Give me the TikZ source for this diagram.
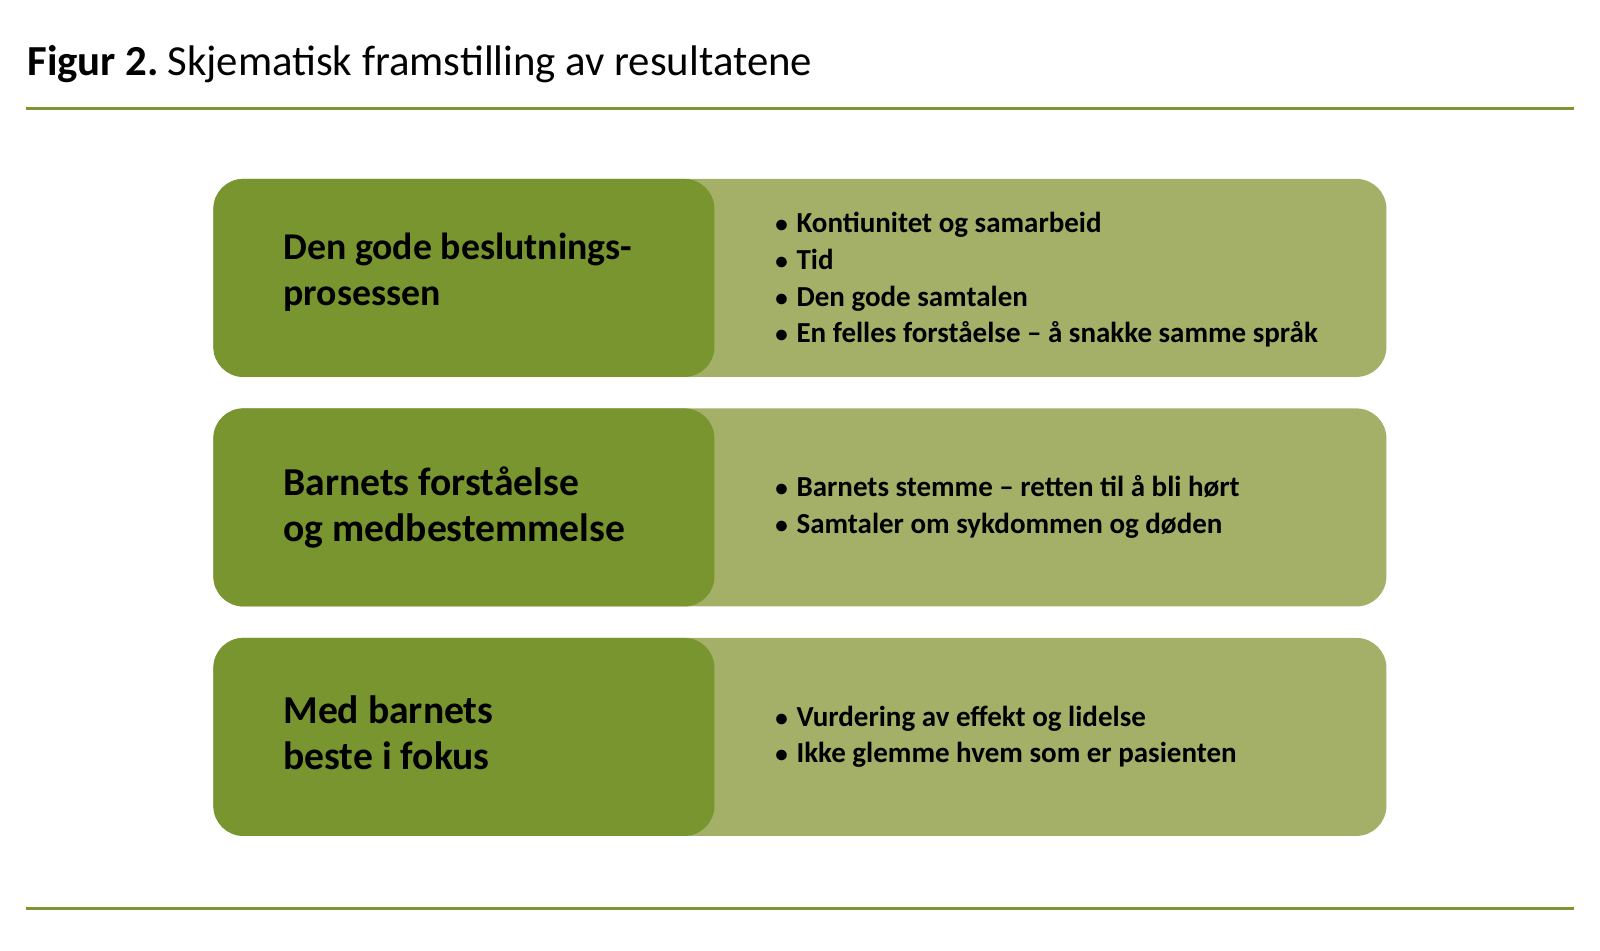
\documentclass[tikz,border=0pt]{standalone}
\usepackage{fontspec}
\setmainfont{Carlito}
\definecolor{dkgreen}{HTML}{78952F}
\definecolor{ltgreen}{HTML}{A4B067}
\definecolor{rulegreen}{HTML}{7A9733}
\newcommand{\blt}{{\fontsize{12.5}{14}\selectfont •}\hspace{0.3em}}
\begin{document}
\begin{tikzpicture}[x=0.5pt,y=-0.5pt,
  lightbox/.style={fill=ltgreen, draw=none, rounded corners=15pt, minimum width=586.5pt, minimum height=99pt, inner sep=0pt, anchor=north west},
  darkbox/.style={fill=dkgreen, draw=none, rounded corners=15pt, minimum width=250.5pt, minimum height=99pt, inner sep=0pt, anchor=north west},
  head/.style={anchor=base west, font=\fontsize{18.9}{22.5}\selectfont\bfseries, inner sep=0pt},
  headb/.style={anchor=base west, font=\fontsize{19.8}{23.5}\selectfont\bfseries, inner sep=0pt},
  item/.style={anchor=base west, font=\fontsize{14.5}{18}\selectfont\bfseries, inner sep=0pt},
  rulestyle/.style={draw=rulegreen, line width=1.5pt},
]
\useasboundingbox (0,0) rectangle (1600,951);
\node[anchor=base west, inner sep=0pt, font=\fontsize{21.4}{26}\selectfont] (title) at (27,76) {\textbf{Figur 2.}\hspace{0.2em}Skjematisk framstilling av resultatene};
\coordinate (r1a) at (26,108.5);
\coordinate (r1b) at (1574,108.5);
\coordinate (r2a) at (26,908);
\coordinate (r2b) at (1574,908);
\draw[rulestyle] (r1a) -- (r1b);
\draw[rulestyle] (r2a) -- (r2b);

% Box 1
\node[lightbox] (l1) at (213,178.5) {};
\node[darkbox] (d1) at (213,178.5) {};
\node[head] (h1a) at (283,260) {Den gode beslutnings-};
\node[head] (h1b) at (283,306) {prosessen};
\node[item] (i1a) at (775,233) {\blt Kontiunitet og samarbeid};
\node[item] (i1b) at (775,270) {\blt Tid};
\node[item] (i1c) at (775,306.5) {\blt Den gode samtalen};
\node[item] (i1d) at (775,343) {\blt En felles forståelse – å snakke samme språk};

% Box 2
\node[lightbox] (l2) at (213,408) {};
\node[darkbox] (d2) at (213,408) {};
\node[headb] (h2a) at (283,496) {Barnets forståelse};
\node[headb] (h2b) at (283,541.5) {og medbestemmelse};
\node[item] (i2a) at (775,497) {\blt Barnets stemme – retten til å bli hørt};
\node[item] (i2b) at (775,534) {\blt Samtaler om sykdommen og døden};

% Box 3
\node[lightbox] (l3) at (213,637.5) {};
\node[darkbox] (d3) at (213,637.5) {};
\node[headb] (h3a) at (283,723.5) {Med barnets};
\node[headb] (h3b) at (283,769.5) {beste i fokus};
\node[item] (i3a) at (775,726) {\blt Vurdering av effekt og lidelse};
\node[item] (i3b) at (775,762) {\blt Ikke glemme hvem som er pasienten};
\end{tikzpicture}
\end{document}
